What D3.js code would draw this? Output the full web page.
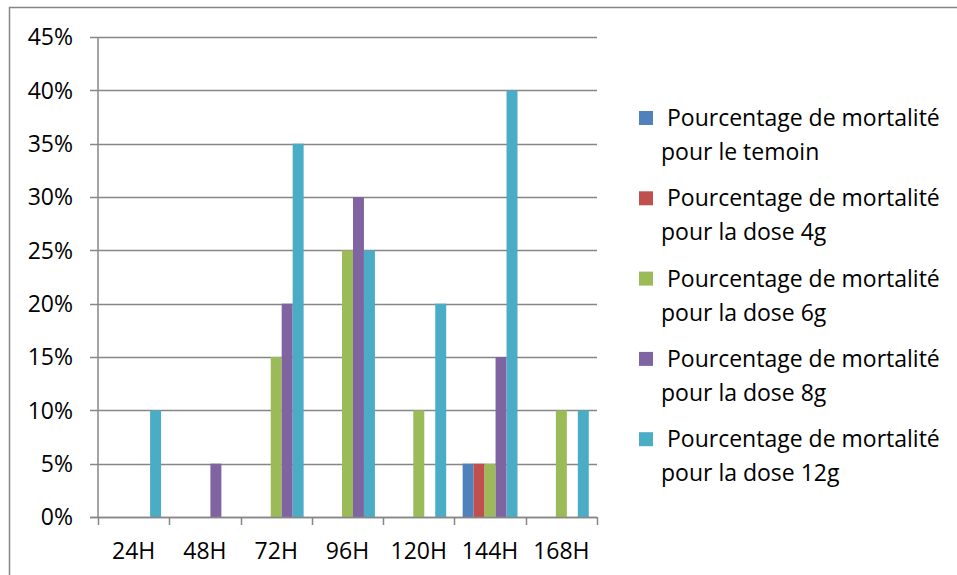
<!DOCTYPE html>
<html>
<head>
<meta charset="utf-8">
<script src="https://cdn.jsdelivr.net/npm/d3@7"></script>
<style>
  body { margin: 0; background: #fff; }
  svg text { font-family: "Open Sans", "Noto Sans", sans-serif; fill: #000; }
</style>
</head>
<body>
<div id="chart"></div>
<script>
var categories = ['24H', '48H', '72H', '96H', '120H', '144H', '168H'];
var seriesNames = [
  ['Pourcentage de mortalité', 'pour le temoin'],
  ['Pourcentage de mortalité', 'pour la dose 4g'],
  ['Pourcentage de mortalité', 'pour la dose 6g'],
  ['Pourcentage de mortalité', 'pour la dose 8g'],
  ['Pourcentage de mortalité', 'pour la dose 12g']
];
var temoin = [0, 0, 0, 0, 0, 5, 0];
var dose4g = [0, 0, 0, 0, 0, 5, 0];
var dose6g = [0, 0, 15, 25, 10, 5, 10];
var dose8g = [0, 5, 20, 30, 0, 15, 0];
var dose12g = [10, 0, 35, 25, 20, 40, 10];
var yTicks = [0, 5, 10, 15, 20, 25, 30, 35, 40, 45];
var colors = ['#4f81bd', '#c0504d', '#9bbb59', '#8064a2', '#4bacc6'];

var series = [temoin, dose4g, dose6g, dose8g, dose12g];

var W = 957, H = 575;
var plot = {left: 98, right: 597, top: 37, bottom: 517};
var fontSize = '23px';

var svg = d3.select('#chart').append('svg')
  .attr('width', W)
  .attr('height', H);

// chart frame
svg.append('rect')
  .attr('x', 9.5).attr('y', 7.5)
  .attr('width', W + 20).attr('height', H + 20)
  .attr('fill', 'none')
  .attr('stroke', '#868686')
  .attr('stroke-width', 1.5);

var x = d3.scaleBand()
  .domain(categories)
  .range([plot.left, plot.right])
  .paddingInner(0).paddingOuter(0);

var y = d3.scaleLinear()
  .domain([0, 45])
  .range([plot.bottom, plot.top]);

// gridlines
svg.append('g')
  .selectAll('line')
  .data(yTicks)
  .enter().append('line')
  .attr('x1', plot.left - 8)
  .attr('x2', plot.right)
  .attr('y1', function(d) { return Math.round(y(d)) + 0.5; })
  .attr('y2', function(d) { return Math.round(y(d)) + 0.5; })
  .attr('stroke', '#868686')
  .attr('stroke-width', 1.5);

// y labels
svg.append('g')
  .selectAll('text')
  .data(yTicks)
  .enter().append('text')
  .attr('x', 73)
  .attr('y', function(d) { return y(d); })
  .attr('dy', '.36em')
  .attr('text-anchor', 'end')
  .style('font-size', fontSize)
  .text(function(d) { return d + '%'; });

// bars, gap width 150%
var barW = x.bandwidth() / (series.length + 1.5);
var groupOffset = barW * 0.75;
series.forEach(function(values, si) {
  svg.append('g')
    .selectAll('rect')
    .data(values)
    .enter().append('rect')
    .attr('x', function(d, i) { return x(categories[i]) + groupOffset + si * barW; })
    .attr('y', function(d) { return y(d); })
    .attr('width', barW)
    .attr('height', function(d) { return y(0) - y(d); })
    .attr('fill', colors[si]);
});

// axes lines
svg.append('line')
  .attr('x1', plot.left).attr('x2', plot.left)
  .attr('y1', plot.top).attr('y2', plot.bottom)
  .attr('stroke', '#868686').attr('stroke-width', 1.5);
svg.append('line')
  .attr('x1', plot.left - 8).attr('x2', plot.right)
  .attr('y1', plot.bottom + 0.5).attr('y2', plot.bottom + 0.5)
  .attr('stroke', '#868686').attr('stroke-width', 1.5);

// x tick marks
var xTickPos = categories.map(function(c) { return x(c); }).concat([plot.right]);
svg.append('g')
  .selectAll('line')
  .data(xTickPos)
  .enter().append('line')
  .attr('x1', function(d) { return Math.round(d) + 0.5; })
  .attr('x2', function(d) { return Math.round(d) + 0.5; })
  .attr('y1', plot.bottom)
  .attr('y2', plot.bottom + 8)
  .attr('stroke', '#868686').attr('stroke-width', 1.5);

// x labels
svg.append('g')
  .selectAll('text')
  .data(categories)
  .enter().append('text')
  .attr('x', function(d) { return x(d) + x.bandwidth() / 2; })
  .attr('y', 559)
  .attr('text-anchor', 'middle')
  .style('font-size', fontSize)
  .text(function(d) { return d; });

// legend
var legend = svg.append('g')
  .selectAll('g')
  .data(seriesNames)
  .enter().append('g')
  .attr('transform', function(d, i) { return 'translate(0,' + (i * 80.3) + ')'; });
legend.append('rect')
  .attr('x', 639).attr('y', 111)
  .attr('width', 14).attr('height', 14)
  .attr('fill', function(d, i) { return colors[i]; });
legend.append('text')
  .attr('x', 667).attr('y', 126)
  .style('font-size', fontSize)
  .text(function(d) { return d[0]; });
legend.append('text')
  .attr('x', 661).attr('y', 160)
  .style('font-size', fontSize)
  .text(function(d) { return d[1]; });
</script>
</body>
</html>
